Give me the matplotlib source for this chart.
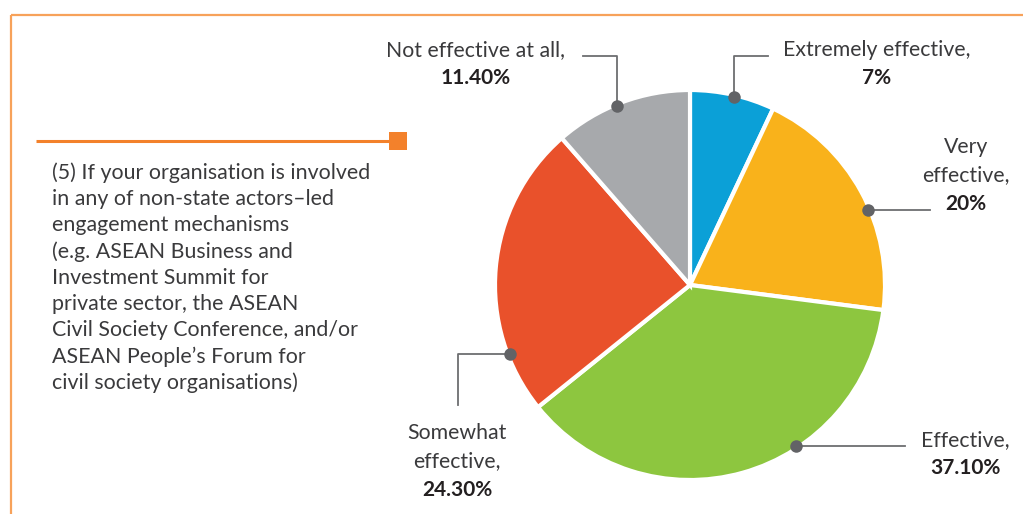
import numpy as np
import matplotlib
matplotlib.use("Agg")
import matplotlib.pyplot as plt
from matplotlib.patches import Rectangle

# ---- data ----
categories = ["Extremely effective", "Very effective", "Effective",
              "Somewhat effective", "Not effective at all"]
values = [7.0, 20.0, 37.1, 24.3, 11.4]
value_labels = ["7%", "20%", "37.10%", "24.30%", "11.40%"]
name_lines = [["Extremely effective,"], ["Very", "effective,"], ["Effective,"],
              ["Somewhat", "effective,"], ["Not effective at all,"]]
colors = ["#0BA0D7", "#F9B21B", "#8DC63F", "#E9512B", "#A7A9AC"]
question = ["(5) If your organisation is involved",
            "in any of non-state actors\u2013led",
            "engagement mechanisms",
            "(e.g. ASEAN Business and",
            "Investment Summit for",
            "private sector, the ASEAN",
            "Civil Society Conference, and/or",
            "ASEAN People\u2019s Forum for",
            "civil society organisations)"]

W, H = 1023, 514
plt.rcParams['font.family'] = ['Lato', 'DejaVu Sans']
fig = plt.figure(figsize=(W / 100, H / 100), dpi=100)
ax = fig.add_axes([0, 0, 1, 1])

def Y(y):
    return H - y

# pie
cx, cy, R = 690, Y(285), 195
wedges, _ = ax.pie(values, colors=colors, startangle=90, counterclock=False,
                   center=(cx, cy), radius=R, frame=True,
                   wedgeprops=dict(edgecolor='white', linewidth=3))
ax.set_xlim(0, W)
ax.set_ylim(0, H)
ax.set_aspect('equal')
ax.axis('off')

# frame
orange_light = "#F7A25A"
orange = "#F3812B"
ax.plot([11, W], [Y(15), Y(15)], color=orange_light, lw=1.6, solid_capstyle='butt')
ax.plot([11, 11], [Y(15), 0], color=orange_light, lw=1.6, solid_capstyle='butt')
ax.plot([36, 395], [Y(141), Y(141)], color=orange, lw=2.2, solid_capstyle='butt')
ax.add_patch(Rectangle((389, Y(150)), 18, 18, color=orange, lw=0))

# question text
text_col = "#3A3A3C"
for i, line in enumerate(question):
    ax.text(52, Y(173 + i * 26.2), line, fontsize=15.4, color=text_col,
            ha='left', va='center')

# leader lines: anchor angle (deg clockwise from top), path, text position
dot_angles = [13.2, 67.0, 146.6, 249.2, 337.9]
leader_paths = [
    [(None, 56), (768, 56)],          # up then right
    [(930, None)],                    # right
    [(905, None)],                    # right
    [(458, None), (458, 405)],        # left then down
    [(None, 56), (583, 56)],          # up then left
]
text_pos = [(877, 50), (966, 147), (965, 440), (457, 433), (476, 50)]
line_col = "#6D6E71"
for k in range(len(values)):
    a = np.deg2rad(dot_angles[k])
    px = cx + (R - 2) * np.sin(a)
    py = cy + (R - 2) * np.cos(a)
    xs, ys = [px], [py]
    for (nx, ny) in leader_paths[k]:
        xs.append(xs[-1] if nx is None else nx)
        ys.append(ys[-1] if ny is None else Y(ny))
    ax.plot(xs, ys, color=line_col, lw=1.3, zorder=4)
    ax.plot(px, py, 'o', ms=9, color="#626366", zorder=5, mec='none')
    tx, ty = text_pos[k]
    lines = name_lines[k]
    for j, ln in enumerate(lines):
        ax.text(tx, Y(ty + j * 28.5), ln, fontsize=15.3, color=text_col,
                ha='center', va='center')
    ax.text(tx, Y(ty + len(lines) * 28.5), value_labels[k], fontsize=15.0,
            fontweight='bold', color="#231F20", ha='center', va='center')

fig.savefig("out.png", dpi=100, facecolor='white')
